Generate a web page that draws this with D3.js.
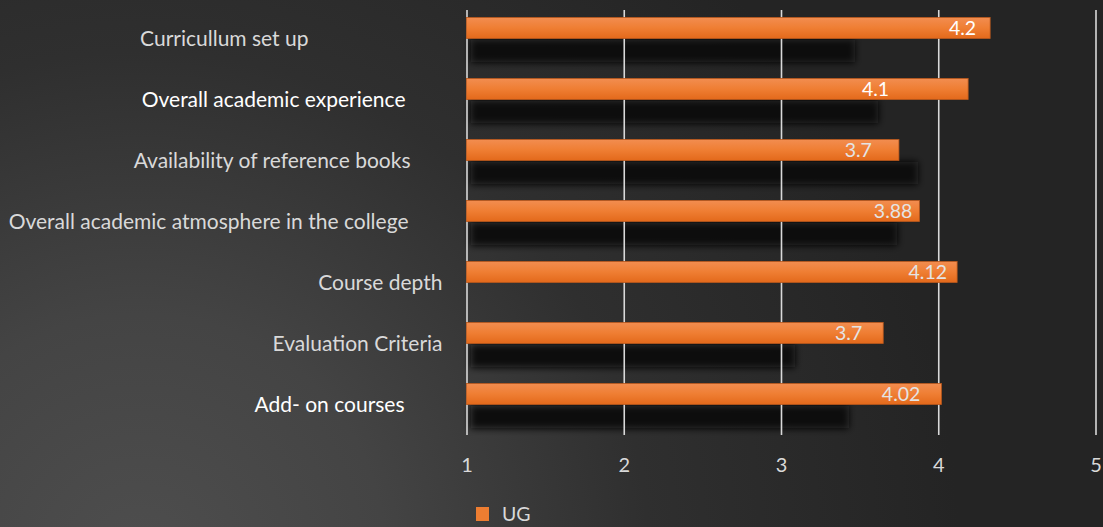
<!DOCTYPE html>
<html><head><meta charset="utf-8">
<script src="https://cdn.jsdelivr.net/npm/d3@7/dist/d3.min.js"></script>
<style>
body{margin:0;background:#262626;overflow:hidden;}
svg{display:block;}
text{font-family:Lato,"Open Sans",sans-serif;}
</style>
</head><body>
<svg id="chart" width="1103" height="527"></svg>
<script>
// ---------- data ----------
const categories = [
  "Curricullum set up",
  "Overall academic experience",
  "Availability of reference books",
  "Overall academic atmosphere in the college",
  "Course depth",
  "Evaluation Criteria",
  "Add- on courses"
];
const ugValues   = [4.33, 4.19, 3.75, 3.88, 4.12, 3.65, 4.02];
const ugLabels   = ["4.2", "4.1", "3.7", "3.88", "4.12", "3.7", "4.02"];
const darkValues = [3.47, 3.62, 3.87, 3.74, null, 3.09, 3.43];
const xTicks     = [1, 2, 3, 4, 5];
const legendLabels = ["UG"];

// ---------- layout / style (kept apart from the data) ----------
const W = 1103, H = 527;
const plot = {left: 466.5, right: 1095.5, top: 8, bottom: 435, gridTop: 10};
const catLabelShift   = [-134, -37, -32, -34, 0, 0, -38];   // px, per text label
const valueLabelShift = [-14, -79, -27, -7, -10, -21, -21]; // px, per data label
const brightCats = [false, true, false, false, false, false, true];
const orange = "#ED7D31";

const svg = d3.select("#chart");
const defs = svg.append("defs");

// background radial gradient
const bg = defs.append("radialGradient").attr("id","bg")
  .attr("gradientUnits","userSpaceOnUse").attr("cx",140).attr("cy",560).attr("r",820);
[[0,"#4e4e4e"],[0.3,"#444444"],[0.62,"#2f2f2f"],[1,"#242424"]].forEach(s=>
  bg.append("stop").attr("offset",s[0]).attr("stop-color",s[1]));
svg.append("rect").attr("width",W).attr("height",H).attr("fill","url(#bg)");

// bar gradient
const bg2 = defs.append("linearGradient").attr("id","barGrad").attr("x1",0).attr("x2",0).attr("y1",0).attr("y2",1);
[[0,"#f28d50"],[0.5,"#ef7e33"],[1,"#e3691b"]].forEach(s=>
  bg2.append("stop").attr("offset",s[0]).attr("stop-color",s[1]));

// blur filter for dark bars
defs.append("filter").attr("id","blur").attr("x","-10%").attr("y","-60%").attr("width","120%").attr("height","220%")
  .append("feGaussianBlur").attr("stdDeviation",3.6);

// ---------- scales ----------
const x = d3.scaleLinear().domain([1,5]).range([plot.left, plot.right]);
const y = d3.scaleBand().domain(categories).range([plot.top, plot.bottom])
  .paddingInner(0.31).paddingOuter(0.155);
const sub = d3.scaleBand().domain(["UG","dark"]).range([0, y.bandwidth()]);

// ---------- dark series (blurred) ----------
svg.append("g").attr("filter","url(#blur)")
  .selectAll("rect").data(categories.map((c,i)=>({c, v: darkValues[i]})).filter(d=>d.v!=null))
  .join("rect")
  .attr("x", x(1) + 4)
  .attr("y", d => y(d.c) + sub("dark") + 1)
  .attr("width", d => x(d.v) - x(1) - 4)
  .attr("height", sub.bandwidth() + 2)
  .attr("fill", "#0c0c0c");

// ---------- grid / axis ----------
const axis = d3.axisBottom(x).tickValues(xTicks).tickFormat(d3.format("d"))
  .tickSize(-(plot.bottom - plot.gridTop)).tickPadding(0);
const gAxis = svg.append("g").attr("transform", `translate(0,${plot.bottom})`).call(axis);
gAxis.select(".domain").remove();
gAxis.selectAll(".tick line").attr("stroke","#d9d9d9").attr("stroke-width",1.6);
gAxis.selectAll(".tick text").attr("fill","#d9d9d9").attr("font-size",20)
  .attr("y", 37).attr("dy", 0);

// ---------- UG bars ----------
svg.append("g").selectAll("rect")
  .data(categories.map((c,i)=>({c, v: ugValues[i]})))
  .join("rect")
  .attr("x", x(1))
  .attr("y", d => y(d.c) + sub("UG"))
  .attr("width", d => x(d.v) - x(1))
  .attr("height", sub.bandwidth())
  .attr("fill", "url(#barGrad)")
  .attr("stroke", "#b9581c").attr("stroke-width", 0.8);

// data labels
svg.append("g").selectAll("text")
  .data(categories.map((c,i)=>({c, v: ugValues[i], t: ugLabels[i], i})))
  .join("text")
  .attr("x", d => x(d.v) + valueLabelShift[d.i])
  .attr("y", d => y(d.c) + sub("UG") + sub.bandwidth()/2)
  .attr("dy", "0.36em")
  .attr("text-anchor", "end")
  .attr("font-size", 19.5)
  .attr("fill", d => d.i < 2 ? "#ffffff" : "#e4e4e4")
  .text(d => d.t);

// category labels
svg.append("g").selectAll("text")
  .data(categories.map((c,i)=>({c, i})))
  .join("text")
  .attr("x", plot.left - 24)
  .attr("dx", d => catLabelShift[d.i])
  .attr("y", d => y(d.c) + y.bandwidth()/2)
  .attr("dy", "0.36em")
  .attr("text-anchor", "end")
  .attr("font-size", 21)
  .attr("fill", d => brightCats[d.i] ? "#ffffff" : "#d9d9d9")
  .text(d => d.c);

// legend
const lg = svg.append("g").attr("transform", "translate(476,507)");
lg.selectAll("rect").data(legendLabels).join("rect")
  .attr("width", 13).attr("height", 14).attr("fill", orange);
lg.selectAll("text").data(legendLabels).join("text")
  .attr("x", 26).attr("y", 14).attr("font-size", 19.5).attr("fill", "#d9d9d9")
  .text(d => d);
</script>
</body></html>
